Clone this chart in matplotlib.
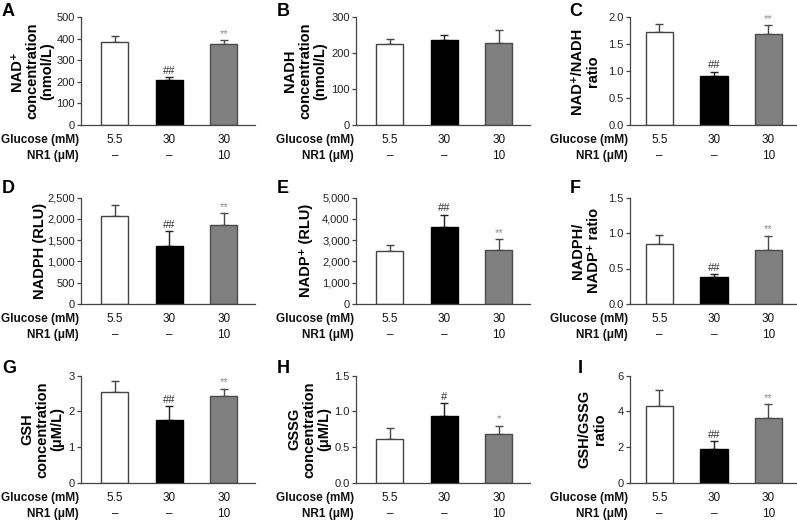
import numpy as np
import matplotlib
matplotlib.use('Agg')
from matplotlib import pyplot as plt
from matplotlib.ticker import MultipleLocator, FuncFormatter

plt.rcParams['font.family'] = ['Liberation Sans', 'DejaVu Sans']

# Panel data (mean, upward SD) for groups: 5.5 mM / 30 mM / 30 mM + NR1
letters = ['A', 'B', 'C', 'D', 'E', 'F', 'G', 'H', 'I']
ylabels = ['NAD⁺\nconcentration\n(nmol/L)', 'NADH\nconcentration\n(nmol/L)', 'NAD⁺/NADH\nratio',
           'NADPH (RLU)', 'NADP⁺ (RLU)', 'NADPH/\nNADP⁺ ratio',
           'GSH\nconcentration\n(μM/L)', 'GSSG\nconcentration\n(μM/L)', 'GSH/GSSG\nratio']
means = [[384, 210, 375], [225, 235, 228], [1.73, 0.91, 1.69],
         [2070, 1367, 1844], [2469, 3594, 2516], [0.85, 0.38, 0.76],
         [2.53, 1.75, 2.43], [0.61, 0.94, 0.68], [4.27, 1.90, 3.62]]
errs = [[26, 12, 18], [14, 14, 35], [0.14, 0.075, 0.16],
        [258, 336, 289], [312, 594, 531], [0.12, 0.04, 0.20],
        [0.32, 0.39, 0.20], [0.16, 0.17, 0.12], [0.90, 0.45, 0.77]]
marks = [['', '##', '**'], ['', '', ''], ['', '##', '**'],
         ['', '##', '**'], ['', '##', '**'], ['', '##', '**'],
         ['', '##', '**'], ['', '#', '*'], ['', '##', '**']]
ymax = [500, 300, 2.0, 2500, 5000, 1.5, 3, 1.5, 6]
ystep = [100, 100, 0.5, 500, 1000, 0.5, 1, 0.5, 2]
glucose = ['5.5', '30', '30']
nr1 = ['–', '–', '10']

bar_colors = ['white', 'black', '#808080']
edge_colors = ['#444444', 'black', '#4a4a4a']
mark_colors = ['#333333', '#333333', '#8a8a8a']

W, H = 797, 521
fig = plt.figure(figsize=(W / 100, H / 100), dpi=100)

# layout in pixels
row_top = [17, 197.5, 375.5]
row_bot = [125, 304, 483]
col_x = [81, 356, 630]
col_xlim = [(-0.62, 2.57), (-0.62, 2.57), (-0.54, 2.50)]
px_per_unit = 54.5
ylabel_x = [32, 305, 585, 40, 306, 586, 42, 309, 592]
letter_pos = [(2, 3), (277, 3), (569, 3), (2, 180), (277, 180), (570, 180),
              (2, 360), (277, 360), (578, 360)]


def fmt_for(step):
    if step >= 1000 or step == 500:
        return FuncFormatter(lambda v, p: '{:,.0f}'.format(v))
    if step < 1:
        return FuncFormatter(lambda v, p: '{:.1f}'.format(v))
    return FuncFormatter(lambda v, p: '{:.0f}'.format(v))


x = np.arange(3)
for i in range(9):
    r, c = divmod(i, 3)
    x0 = col_x[c]
    xl = col_xlim[c]
    w = (xl[1] - xl[0]) * px_per_unit
    h = row_bot[r] - row_top[r]
    ax = fig.add_axes([x0 / W, 1 - row_bot[r] / H, w / W, h / H])

    ax.bar(x, means[i], width=0.5, color=bar_colors, edgecolor=edge_colors, linewidth=1, zorder=2)
    for j in range(3):
        ax.errorbar(x[j], means[i][j], yerr=[[0], [errs[i][j]]], fmt='none',
                    ecolor=edge_colors[j] if j != 1 else '#222222', elinewidth=1,
                    capsize=3, capthick=1, zorder=1)
        if marks[i][j]:
            ax.annotate(marks[i][j], (x[j], means[i][j] + errs[i][j]), xytext=(0, 1),
                        textcoords='offset points', ha='center', va='bottom',
                        fontsize=8, color=mark_colors[j])

    ax.set_xlim(*xl)
    ax.set_ylim(0, ymax[i])
    ax.yaxis.set_major_locator(MultipleLocator(ystep[i]))
    ax.yaxis.set_major_formatter(fmt_for(ystep[i]))
    ax.set_xticks([])
    for s in ['top', 'right']:
        ax.spines[s].set_visible(False)
    for s in ['left', 'bottom']:
        ax.spines[s].set_color('#444444')
        ax.spines[s].set_linewidth(0.9)
    ax.tick_params(axis='y', direction='out', length=3, width=0.9, color='#444444',
                   labelsize=8, labelcolor='#222222', pad=1.5)

    ax.set_ylabel(ylabels[i], fontsize=10.5, fontweight='bold', va='center',
                  linespacing=1.1)
    ax.yaxis.set_label_coords((ylabel_x[i] - x0) / w, 0.5)

    # group rows under each panel
    ax.text(-2 / w, -0.14, 'Glucose (mM)', transform=ax.transAxes, ha='right', va='center',
            fontsize=8.5, fontweight='bold', color='#111111')
    ax.text(-2 / w, -0.29, 'NR1 (μM)', transform=ax.transAxes, ha='right', va='center',
            fontsize=8.5, fontweight='bold', color='#111111')
    tr = ax.get_xaxis_transform()
    for j in range(3):
        ax.text(x[j], -0.14, glucose[j], transform=tr, ha='center', va='center',
                fontsize=8.5, color='#111111')
        ax.text(x[j], -0.29, nr1[j], transform=tr, ha='center', va='center',
                fontsize=8.5, color='#111111')

    lx, ly = letter_pos[i]
    fig.text(lx / W, 1 - ly / H, letters[i], ha='left', va='top',
             fontsize=13, fontweight='bold')

fig.savefig('out.png', dpi=100)
